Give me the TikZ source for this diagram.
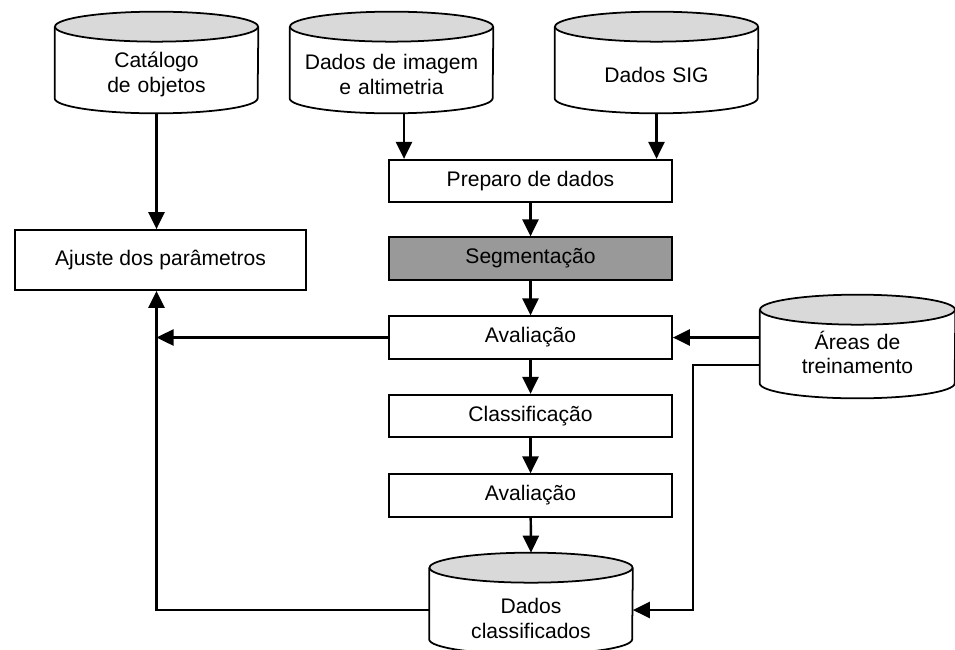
\documentclass[tikz,border=0pt]{standalone}
\usepackage{fontspec}
\setmainfont{Liberation Sans}
\usetikzlibrary{arrows.meta,positioning,backgrounds}

\begin{document}
\begin{tikzpicture}[
  x=0.02cm, y=-0.02cm,
  font=\fontsize{12}{14}\selectfont,
  etapa/.style={draw, line width=1pt, minimum width=5.66cm, minimum height=0.85cm, align=center, fill=white, inner sep=0pt},
  ajuste/.style={etapa, minimum width=5.82cm, minimum height=1.2cm},
  cinza/.style={fill=gray!80},
  db/.style={rectangle, minimum width=4.06cm, minimum height=2.02cm, inner sep=0pt, align=center,
    text width=3.6cm, text height=22.5pt},
  cil/.style={line width=1pt},
  seta/.style={-{Triangle[length=3.4mm, width=3.2mm]}, line width=1.4pt}
]
\useasboundingbox (0,0) rectangle (955,649);

% bases de dados
\node[db] (catalogo) at (156.5, 62.5) {Catálogo\\de objetos};
\node[db] (imagem)   at (391.5, 62.5) {Dados de imagem\\e altimetria};
\node[db] (sig)      at (656.5, 62.5) {Dados SIG};
\node[db, minimum width=3.9cm, minimum height=2.06cm, text height=17pt] (areas) at (857.5, 346.5) {Áreas de\\treinamento};
\node[db, text height=26pt] (dadoscl) at (531, 603.5) {Dados\\classificados};

% etapas
\node[ajuste] (param) at (160.5, 260) {Ajuste dos parâmetros};
\node[etapa] (preparo) at (530.5, 181) {Preparo de dados};
\node[etapa, cinza] (segm) at (530.5, 258.5) {Segmentação};
\node[etapa] (aval1) at (530.5, 337.5) {Avaliação};
\node[etapa] (classif) at (530.5, 416) {Classificação};
\node[etapa] (aval2) at (530.5, 495.5) {Avaliação};

% cilindros atras do texto
\begin{scope}[on background layer]
  \foreach \c/\r in {catalogo/2.03, imagem/2.03, sig/2.03, areas/1.95, dadoscl/2.03} {
    \draw[cil, fill=white] ([yshift=-0.3cm]\c.north west) -- ([yshift=0.3cm]\c.south west)
      arc[start angle=180, end angle=360, x radius=\r cm, y radius=0.3cm]
      -- ([yshift=-0.3cm]\c.north east);
    \draw[cil, fill=gray!30] ([yshift=-0.3cm]\c.north) ellipse[x radius=\r cm, y radius=0.3cm];
  }
\end{scope}

\coordinate (saida) at (693, 365);
\coordinate (desvio) at (693, 610);

\draw[seta] (catalogo.south) -- (catalogo.south |- param.north);
\draw[seta] ([xshift=0.25cm]imagem.south) -- ([xshift=0.25cm]imagem.south |- preparo.north);
\draw[seta] (sig.south) -- (sig.south |- preparo.north);
\draw[seta] (preparo) -- (segm);
\draw[seta] (segm) -- (aval1);
\draw[seta] (aval1) -- (classif);
\draw[seta] (classif) -- (aval2);
\draw[seta] (aval2) -- (dadoscl.north);

\draw[seta] (areas.west |- aval1.east) -- (aval1.east);
\draw[seta] (areas.west |- saida) -- (saida) -- (desvio) -- (desvio -| dadoscl.east);
\draw[seta] (aval1.west) -- (aval1.west -| catalogo.south);
\draw[seta] (desvio -| dadoscl.west) -| (param.south -| catalogo.south);
\end{tikzpicture}
\end{document}
